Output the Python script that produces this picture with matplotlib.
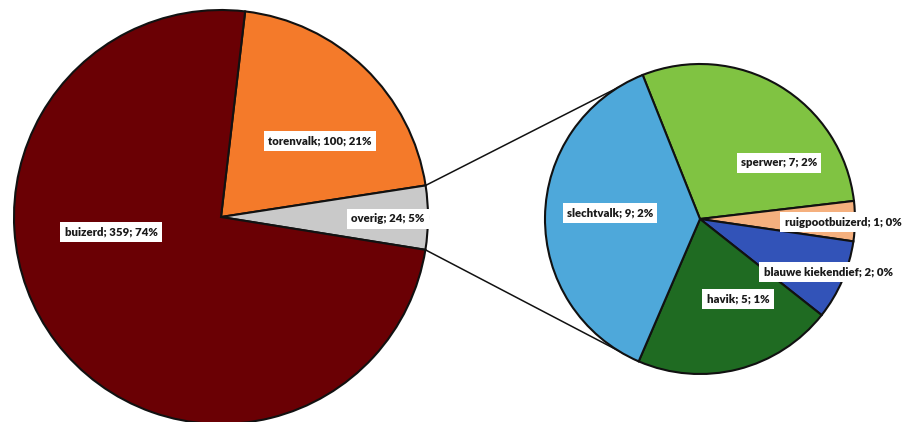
import numpy as np
import matplotlib.pyplot as plt

# main pie (clockwise from the top)
main_labels = ['torenvalk', 'overig', 'buizerd']
main_values = [100, 24, 359]
main_pct = [21, 5, 74]
main_colors = ['#f47a2a', '#c9c9c9', '#6a0004']

# second pie: breakdown of "overig"
sub_labels = ['sperwer', 'ruigpootbuizerd', 'blauwe kiekendief', 'havik', 'slechtvalk']
sub_values = [7, 1, 2, 5, 9]
sub_pct = [2, 0, 0, 1, 2]
sub_colors = ['#80c342', '#f5b07e', '#3253b8', '#1f6b22', '#4ea8da']

fig = plt.figure(figsize=(9.06, 4.22), dpi=100)
ax = fig.add_axes([0, 0, 1, 1])
ax.set_aspect('equal')

c1, r1, a1 = (221, 205), 207, 83.3
c2, r2, a2 = (700, 203), 155, 111.7

wp = dict(edgecolor='#111111', linewidth=1.5)
ax.pie(main_values, colors=main_colors, startangle=a1, counterclock=False,
       center=c1, radius=r1, wedgeprops=wp, frame=True)
ax.pie(sub_values, colors=sub_colors, startangle=a2, counterclock=False,
       center=c2, radius=r2, wedgeprops=wp, frame=True)
ax.set_xlim(0, 906)
ax.set_ylim(0, 422)
ax.axis('off')

def pt(c, r, ang):
    t = np.radians(ang)
    return c[0] + r * np.cos(t), c[1] + r * np.sin(t)

# connector lines from the "overig" slice to the second pie
b1 = a1 - 360 * main_values[0] / sum(main_values)
b2 = b1 - 360 * main_values[1] / sum(main_values)
s_end = a2 - 360 * sum(sub_values[:-1]) / sum(sub_values)
for ma, sa in [(b1, a2), (b2, s_end)]:
    p, q = pt(c1, r1, ma), pt(c2, r2, sa)
    ax.plot([p[0], q[0]], [p[1], q[1]], color='#111111', lw=1.1, zorder=0)

# label positions (pixels from top-left)
main_pos = [(320, 141), (388, 219), (111, 232)]
sub_pos = [(779, 163), (843, 222), (828, 272), (738, 299), (610, 213)]

box = dict(facecolor='white', edgecolor='none', pad=3)
for lab, v, pc, (x, y) in zip(main_labels + sub_labels, main_values + sub_values,
                              main_pct + sub_pct, main_pos + sub_pos):
    ax.text(x, 422 - y, f'{lab}; {v}; {pc}%', ha='center', va='center',
            fontsize=8.2, fontweight='heavy', family='Lato', color='#1a1a1a',
            bbox=box)

fig.savefig('out.png', dpi=100)
